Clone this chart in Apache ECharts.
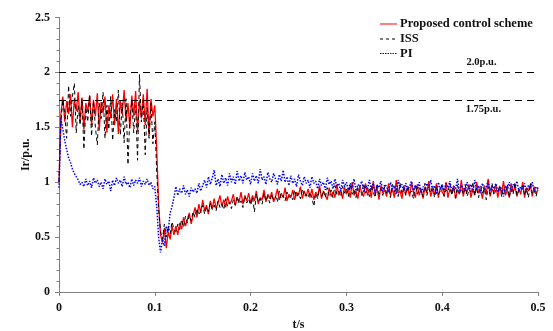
<!DOCTYPE html>
<html><head><meta charset="utf-8">
<script src="https://cdn.jsdelivr.net/npm/echarts@6/dist/echarts.min.js"></script>
<style>html,body{margin:0;padding:0;background:#fff}#c{width:553px;height:331px}</style>
</head><body><div id="c"></div>
<script>
// Sampling grid: 0..0.5 s every 2 ms (251 samples)
const sampleStep = 0.002, sampleCount = 251;
const seriesNames = ['Proposed control scheme', 'ISS', 'PI'];
const xTicks = [0, 0.1, 0.2, 0.3, 0.4, 0.5];
const yTicks = [0, 0.5, 1, 1.5, 2, 2.5];
const refLevels = [2.0, 1.75];
const refLabels = ['2.0p.u.', '1.75p.u.'];

const proposed = [1.00,1.62,1.78,1.55,1.74,1.62,1.80,1.50,1.76,1.65,
 1.82,1.56,1.77,1.48,1.72,1.64,1.79,1.52,1.75,1.60,
 1.81,1.47,1.73,1.63,1.78,1.45,1.70,1.58,1.80,1.52,
 1.76,1.44,1.74,1.62,1.84,1.55,1.72,1.49,1.79,1.60,
 1.83,1.46,1.75,1.58,1.80,1.52,1.85,1.42,1.76,1.60,
 1.70,1.30,0.80,0.52,0.45,0.58,0.40,0.55,0.48,0.60,0.52,
 0.60,0.52,0.63,0.57,0.68,0.60,0.66,0.72,0.62,0.70,
 0.77,0.68,0.80,0.72,0.84,0.74,0.79,0.71,0.83,0.76,
 0.85,0.76,0.81,0.88,0.78,0.84,0.77,0.87,0.80,0.83,
 0.89,0.79,0.86,0.82,0.91,0.80,0.87,0.83,0.90,0.81,
 0.88,0.83,0.92,0.80,0.86,0.84,0.93,0.82,0.89,0.85,
 0.91,0.82,0.87,0.94,0.84,0.90,0.86,0.95,0.83,0.89,
 0.86,0.93,0.84,0.91,0.88,0.96,0.85,0.92,0.87,0.94,
 0.86,0.94,0.84,0.91,0.87,0.97,0.85,0.92,0.88,0.84,
 0.95,0.87,0.91,0.86,0.98,0.88,0.93,0.85,0.96,0.89,
 0.94,0.86,1.00,0.88,0.92,0.85,0.97,0.90,0.87,0.99,
 0.88,0.94,0.86,1.01,0.89,0.95,0.84,0.97,0.90,0.93,
 0.87,0.99,0.88,0.94,0.86,1.02,0.90,0.92,0.85,0.97,
 0.89,0.95,0.87,1.00,0.91,0.86,0.98,0.88,0.94,0.85,
 0.96,0.90,1.01,0.87,0.93,0.89,0.99,0.86,0.95,0.91,
 0.88,1.00,0.86,0.94,0.90,0.97,0.85,0.93,0.89,1.02,
 0.87,0.95,0.91,0.98,0.86,0.94,0.88,1.00,0.90,0.93,
 0.85,0.97,0.89,1.03,0.87,0.94,0.91,0.98,0.86,0.95,
 0.90,1.01,0.88,0.93,0.86,0.99,0.91,0.96,0.87,0.94,
 0.89,1.00,0.86,0.95,0.92,0.98,0.87,0.96,0.90,0.93];

const iss = [1.00,1.55,1.75,1.62,1.40,1.88,1.60,1.78,1.90,1.45,
 1.70,1.52,1.76,1.30,1.68,1.55,1.80,1.42,1.74,1.50,
 1.34,1.72,1.58,1.82,1.40,1.70,1.48,1.78,1.38,1.66,
 1.55,1.84,1.43,1.72,1.36,1.76,1.16,1.60,1.74,1.45,
 1.70,1.20,1.98,1.55,1.75,1.25,1.68,1.40,1.72,1.35,
 1.55,1.10,0.75,0.55,0.48,0.62,0.50,0.60,0.53,0.64,0.57,
 0.55,0.62,0.57,0.66,0.59,0.69,0.63,0.70,0.65,0.73,
 0.68,0.76,0.70,0.74,0.79,0.71,0.77,0.73,0.81,0.75,
 0.79,0.74,0.83,0.77,0.80,0.75,0.85,0.78,0.82,0.76,
 0.84,0.79,0.87,0.80,0.83,0.77,0.88,0.81,0.85,0.79,
 0.86,0.73,0.89,0.82,0.85,0.80,0.90,0.83,0.87,0.81,
 0.89,0.84,0.87,0.82,0.92,0.85,0.88,0.83,0.91,0.86,
 0.88,0.84,0.93,0.86,0.90,0.85,0.94,0.87,0.89,0.86,
 0.91,0.86,0.78,0.90,0.85,0.94,0.87,0.92,0.86,0.95,
 0.88,0.93,0.86,0.97,0.89,0.92,0.87,0.96,0.90,0.94,
 0.87,0.98,0.89,0.93,0.86,0.96,0.91,0.88,0.99,0.90,
 0.95,0.87,0.97,0.91,0.86,0.99,0.89,0.94,0.88,0.96,
 0.90,0.93,0.86,0.98,0.91,0.95,0.87,0.99,0.89,0.94,
 0.88,0.97,0.90,0.92,0.85,0.98,0.89,0.95,0.91,0.87,
 0.99,0.88,0.94,0.90,0.97,0.86,0.95,0.89,0.92,0.98,
 0.87,0.93,0.91,0.99,0.88,0.95,0.86,0.97,0.90,0.94,
 0.89,0.98,0.87,0.93,0.91,1.00,0.88,0.95,0.86,0.97,
 0.90,0.94,0.84,0.96,0.89,0.99,0.88,0.93,0.91,0.97,
 0.87,0.95,0.90,0.98,0.86,0.94,0.89,1.00,0.88,0.92,
 0.91,0.97,0.88,0.94,0.86,0.99,0.90,0.93,0.87,0.95];

const pi = [0.95,1.58,1.48,1.38,1.30,1.22,1.18,1.12,1.08,1.05,
 1.02,0.98,1.00,0.96,1.03,0.97,1.01,0.95,1.04,0.99,
 1.02,0.96,1.00,0.94,1.03,0.98,1.01,0.92,1.02,0.97,
 1.04,0.99,1.02,0.96,1.05,0.98,1.00,0.95,1.03,0.97,
 1.02,0.99,1.04,0.96,1.01,0.98,1.03,0.97,1.00,0.94,
 0.96,0.78,0.50,0.36,0.48,0.42,0.60,0.55,0.72,0.78,0.86,
 0.96,0.88,0.94,0.90,0.97,0.89,0.93,0.87,0.95,0.91,
 0.94,0.90,0.99,0.92,0.97,1.02,0.95,1.05,0.98,1.04,
 1.11,0.97,1.03,0.96,1.07,0.99,1.04,0.97,1.08,1.00,
 1.05,0.98,1.10,1.01,1.06,0.99,1.09,1.02,1.05,0.98,
 1.08,1.01,1.06,0.99,1.12,1.02,1.05,0.98,1.09,1.03,
 1.00,1.08,1.03,0.98,1.07,1.01,1.11,1.00,1.05,0.97,
 1.06,0.99,1.03,0.96,1.07,1.01,0.97,1.05,0.99,1.02,
 0.95,1.05,0.99,1.01,0.94,1.03,0.97,1.00,0.93,1.04,
 0.98,1.01,0.94,1.03,0.96,0.99,0.92,1.02,0.96,1.00,
 0.93,0.99,0.95,1.03,0.92,0.98,0.96,1.01,0.91,0.97,
 0.94,1.02,0.93,0.99,0.90,0.97,0.95,1.01,0.92,0.98,
 0.96,0.91,1.00,0.94,0.97,0.89,1.02,0.95,0.98,0.92,
 0.99,0.93,0.96,1.01,0.91,0.97,0.94,1.00,0.90,0.96,
 0.93,0.99,0.95,1.02,0.92,0.97,0.89,1.00,0.94,0.98,
 0.91,0.99,0.95,1.01,0.92,0.96,0.94,1.03,0.90,0.97,
 0.95,0.92,1.00,0.93,0.98,0.91,1.02,0.94,0.97,0.90,
 0.99,0.93,0.96,1.01,0.92,0.97,0.94,0.99,0.91,0.96,
 0.94,0.87,0.97,0.93,1.00,0.91,0.98,0.95,1.01,0.92,
 0.96,0.93,0.99,0.91,0.97,0.94,1.00,0.92,0.96,0.94];

const time = [];
for (let i = 0; i < sampleCount; i++) time.push(+(i * sampleStep).toFixed(4));
const pair = v => v.map((y, i) => [time[i], y]);

const font = 'Liberation Serif, Times New Roman, serif';
const chart = echarts.init(document.getElementById('c'), null, {renderer: 'canvas'});
const axisCol = '#808080';
const styles = [
  {color: '#ff0000', width: 1.3, type: 'solid'},
  {color: '#000000', width: 1, type: [4, 3]},
  {color: '#0000ff', width: 1.5, type: [1.5, 1.5]}
];
chart.setOption({
  animation: false,
  backgroundColor: '#fff',
  grid: {left: 59, right: 15, top: 17.5, bottom: 39, outerBoundsMode: 'none', containLabel: false},
  xAxis: {
    type: 'value', min: 0, max: 0.5, interval: 0.1,
    name: 't/s', nameLocation: 'middle', nameGap: 26,
    nameTextStyle: {fontFamily: font, fontWeight: 'bold', fontSize: 12, color: '#111'},
    axisLine: {onZero: false, lineStyle: {color: axisCol}},
    axisTick: {show: true, inside: false, length: 4, lineStyle: {color: axisCol}},
    axisLabel: {fontFamily: font, fontWeight: 'bold', fontSize: 12, color: '#111', margin: 10,
      formatter: v => xTicks.includes(+v.toFixed(2)) ? String(+v.toFixed(2)) : ''},
    splitLine: {show: false}
  },
  yAxis: {
    type: 'value', min: 0, max: 2.5, interval: 0.5,
    name: 'Ir/p.u.', nameLocation: 'middle', nameGap: 27, nameRotate: 90, nameMoveOverlap: false,
    nameTextStyle: {fontFamily: font, fontWeight: 'bold', fontSize: 12, color: '#111'},
    axisLine: {show: true, lineStyle: {color: axisCol}},
    axisTick: {show: true, inside: false, length: 4, lineStyle: {color: axisCol}},
    minorTick: {show: true, splitNumber: 5, length: 2.5, lineStyle: {color: axisCol}},
    axisLabel: {fontFamily: font, fontWeight: 'bold', fontSize: 12, color: '#111', margin: 9,
      formatter: v => yTicks.includes(+v.toFixed(2)) ? String(+v.toFixed(2)) : ''},
    splitLine: {show: false}
  },
  series: [
    {name: seriesNames[0], type: 'line', showSymbol: false, symbol: 'none',
     data: pair(proposed), lineStyle: styles[0], z: 2},
    {name: seriesNames[1], type: 'line', showSymbol: false, symbol: 'none',
     data: pair(iss), lineStyle: styles[1], z: 3,
     markLine: {silent: true, symbol: 'none', label: {show: false},
       lineStyle: {color: '#000', width: 1, type: [7, 5]},
       data: refLevels.map(v => ({yAxis: v}))}},
    {name: seriesNames[2], type: 'line', showSymbol: false, symbol: 'none',
     data: pair(pi), lineStyle: styles[2], z: 4}
  ]
});

// reference level labels positioned through the axis scale
const lab0 = chart.convertToPixel({gridIndex: 0}, [0.441, refLevels[0]]);
const lab1 = chart.convertToPixel({gridIndex: 0}, [0.443, refLevels[1]]);
const legendY = [24, 39, 53.5];
const graphics = [
  {type: 'text', x: lab0[0], y: lab0[1] - 10, style: {text: refLabels[0], font: 'bold 10.5px ' + font, fill: '#111', align: 'center', verticalAlign: 'middle'}},
  {type: 'text', x: lab1[0], y: lab1[1] + 9, style: {text: refLabels[1], font: 'bold 10.5px ' + font, fill: '#111', align: 'center', verticalAlign: 'middle'}}
];
seriesNames.forEach((n, k) => {
  graphics.push({type: 'line', shape: {x1: 380, y1: legendY[k], x2: 397, y2: legendY[k]},
    style: {stroke: styles[k].color, lineWidth: 1, lineDash: k === 0 ? null : (k === 1 ? [3, 3] : [1.5, 1])}});
  graphics.push({type: 'text', x: 400, y: legendY[k], style: {text: n, font: 'bold 12.5px ' + font, fill: '#111', align: 'left', verticalAlign: 'middle'}});
});
chart.setOption({graphic: graphics});
</script></body></html>
